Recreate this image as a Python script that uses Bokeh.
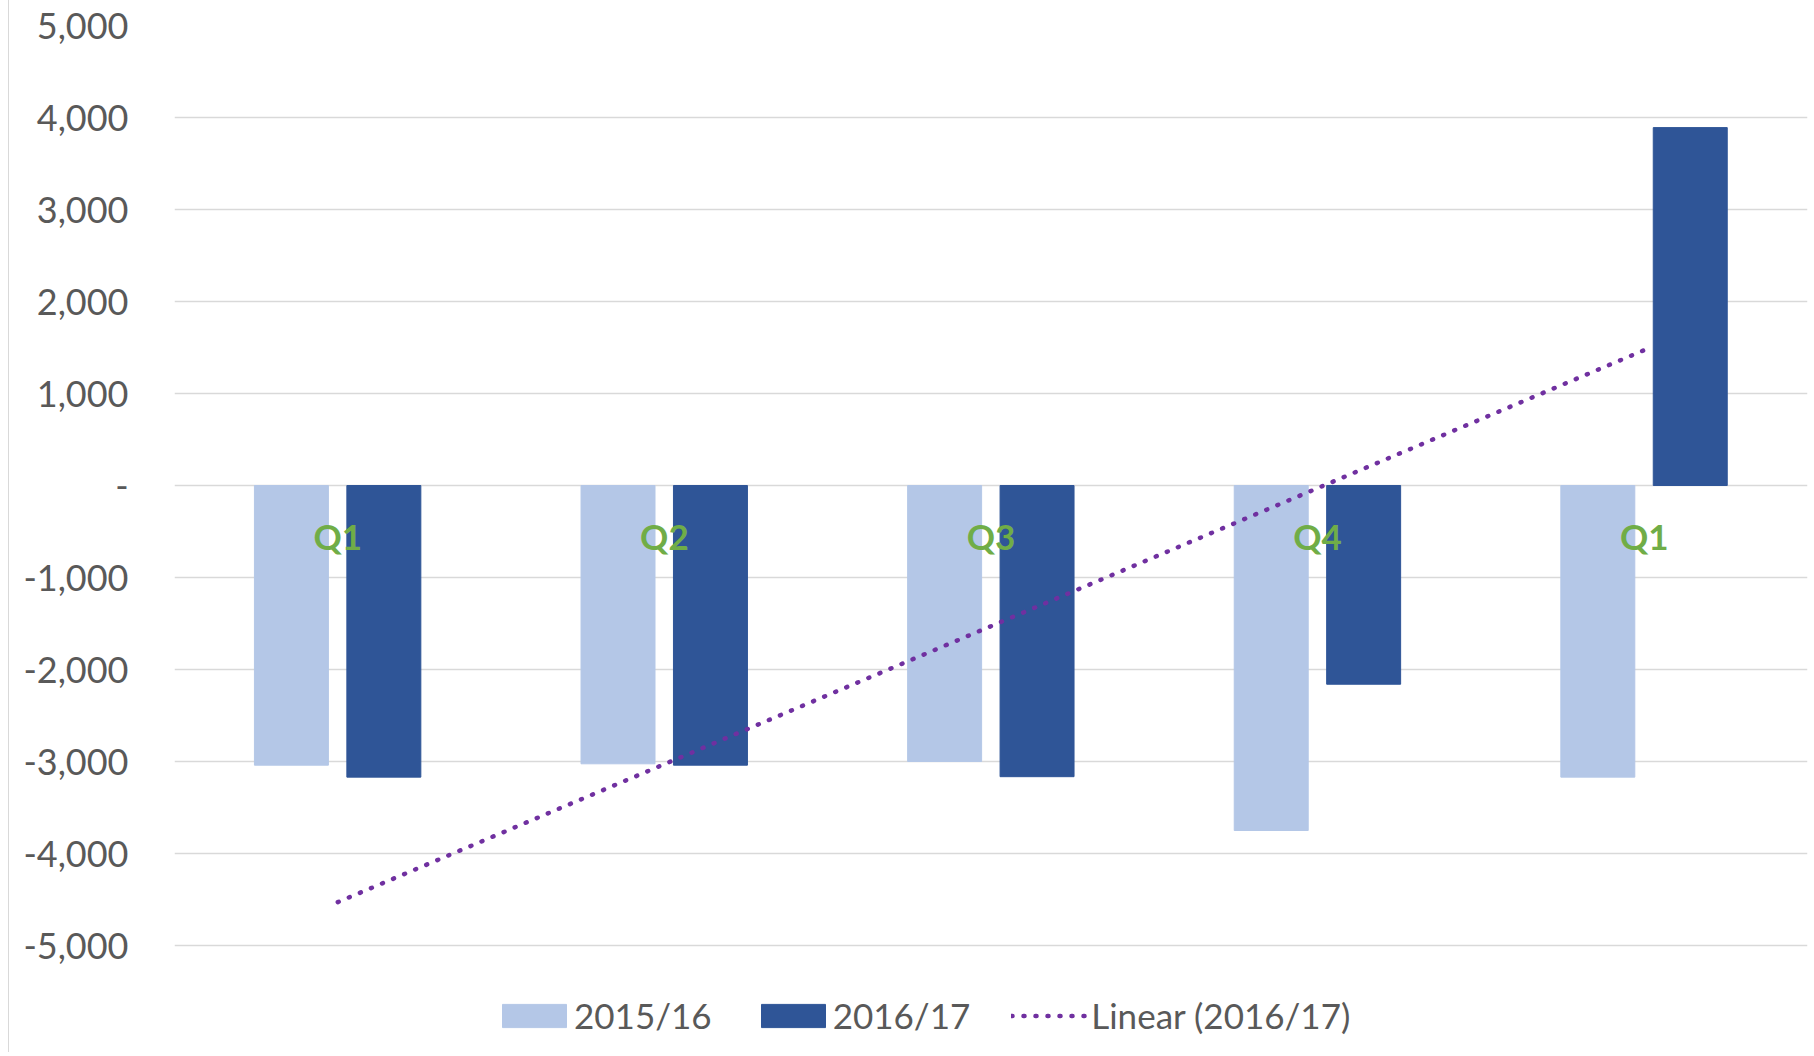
import numpy as np
from bokeh.plotting import figure
from bokeh.models import ColumnDataSource, Range1d, FixedTicker, Legend, LegendItem
from bokeh.transform import dodge
from bokeh.core.properties import value
from bokeh.embed import file_html
from bokeh.resources import INLINE

# ---- data ----
quarters = ["Q1", "Q2", "Q3", "Q4", "Q1"]
series_2015_16 = [-3040, -3025, -3000, -3750, -3170]
series_2016_17 = [-3170, -3040, -3165, -2160, 3890]
y_ticks = [-5000, -4000, -3000, -2000, -1000, 0, 1000, 2000, 3000, 4000, 5000]
y_tick_labels = ["-5,000", "-4,000", "-3,000", "-2,000", "-1,000", "-",
                 "1,000", "2,000", "3,000", "4,000", "5,000"]

# ---- styles ----
LIGHT = "#B4C7E7"
DARK = "#2F5597"
TREND = "#7030A0"
GREEN = "#70AD47"
TEXT = "#595959"
GRID = "#D9D9D9"
FONT = "Lato"

# layout (pixels)
CANVAS_H = 1052
FRAME_TOP = 25
AXIS_PX = 920          # pixels between -5000 and 5000
EXTRA_PX = CANVAS_H - FRAME_TOP - AXIS_PX   # room below -5000 for the legend
y_top = max(y_ticks)
y_bot = min(y_ticks) - EXTRA_PX * (max(y_ticks) - min(y_ticks)) / AXIS_PX

xs = [i + 0.5 for i in range(len(quarters))]
src = ColumnDataSource(dict(x=xs, q=quarters, a=series_2015_16, b=series_2016_17,
                            ly=[-545] * len(xs)))

# linear trendline of 2016/17 (Excel "Linear" trendline)
idx = np.arange(1, len(series_2016_17) + 1)
slope, intercept = np.polyfit(idx, series_2016_17, 1)
trend_y = list(slope * idx + intercept)

p = figure(width=1801, height=CANVAS_H, output_backend="svg", toolbar_location=None,
           x_range=Range1d(0, len(quarters)), y_range=Range1d(y_bot, y_top),
           min_border_left=165, min_border_right=3, min_border_top=FRAME_TOP,
           min_border_bottom=0)
p.styles = {"margin-left": "8px", "border-left": "1px solid #D9D9D9"}
p.outline_line_color = None
p.background_fill_color = "white"
p.border_fill_color = "white"

bw = 0.2265
r1 = p.vbar(x=dodge("x", -0.142, range=p.x_range), top="a", bottom=0, width=bw,
            source=src, fill_color=LIGHT, line_color=LIGHT)
r2 = p.vbar(x=dodge("x", 0.141, range=p.x_range), top="b", bottom=0, width=bw,
            source=src, fill_color=DARK, line_color=DARK)
r3 = p.line(x=xs, y=trend_y, line_color=TREND, line_width=4.5, line_dash="1 11",
            line_cap="round")

p.text(x="x", y="ly", text="q", source=src, text_color=GREEN,
       text_font=value(FONT), text_font_style="bold", text_font_size="35px",
       text_align="center", text_baseline="middle")

p.xaxis.visible = False
p.xgrid.visible = False
p.ygrid.grid_line_color = GRID
p.ygrid.grid_line_width = 1.5
p.yaxis.ticker = FixedTicker(ticks=y_ticks)
p.yaxis.major_label_overrides = {t: l for t, l in zip(y_ticks, y_tick_labels)}
p.yaxis.axis_line_color = None
p.yaxis.major_tick_line_color = None
p.yaxis.minor_tick_line_color = None
p.yaxis.major_label_standoff = 40
p.yaxis.major_label_text_font = FONT
p.yaxis.major_label_text_font_size = "36px"
p.yaxis.major_label_text_color = TEXT

legend = Legend(items=[LegendItem(label="2015/16", renderers=[r1]),
                       LegendItem(label="2016/17", renderers=[r2]),
                       LegendItem(label="Linear (2016/17)", renderers=[r3])],
                orientation="horizontal", location=(320, 16),
                glyph_width=80, glyph_height=29, label_standoff=0, spacing=41,
                label_height=40,
                padding=0, margin=0, border_line_color=None,
                background_fill_alpha=0,
                label_text_font=FONT, label_text_font_size="35px",
                label_text_color=TEXT)
p.add_layout(legend)

open("out.html", "w").write(file_html(p, INLINE))
